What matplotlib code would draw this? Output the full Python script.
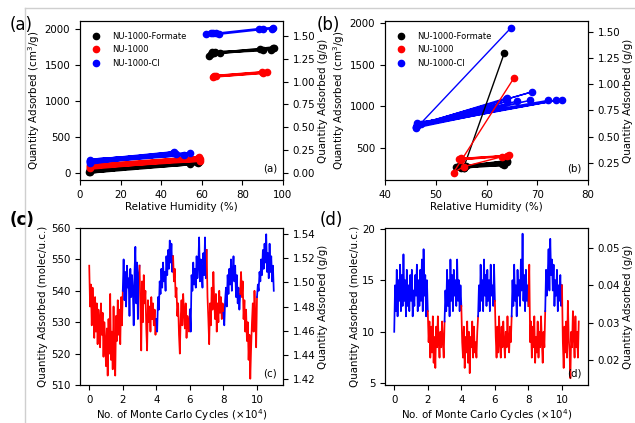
import numpy as np
import matplotlib
matplotlib.use("Agg")
from matplotlib import pyplot as plt
from matplotlib.lines import Line2D

# ---- panel (a): isotherm, relative humidity vs uptake ----
a_form_low_x = [5, 58, 5, 57, 5, 58, 4.5, 54, 5, 58.5]
a_form_low_y = [15, 140, 35, 155, 50, 165, 5, 120, 25, 150]
a_form_high_x = [63.5, 66, 65, 69, 88.5, 95, 94, 95.5, 90, 66.5, 64.5]
a_form_high_y = [1630, 1665, 1680, 1665, 1720, 1740, 1710, 1730, 1705, 1675, 1650]
a_nu_low_x = [5, 59, 5, 58.5, 5, 59, 5, 58]
a_nu_low_y = [60, 190, 90, 215, 110, 170, 75, 200]
a_nu_high_x = [65.5, 67, 89.5, 92, 90, 66]
a_nu_high_y = [1335, 1345, 1395, 1405, 1390, 1340]
a_cl_low_x = [5, 46, 5, 47.5, 5, 54, 5, 51, 5, 46.5]
a_cl_low_y = [130, 280, 160, 265, 180, 270, 145, 250, 170, 285]
a_cl_high_x = [62, 64.5, 65.5, 67, 68.5, 88, 90, 95, 94.5]
a_cl_high_y = [1935, 1945, 1950, 1945, 1935, 1995, 2000, 2010, 2005]

# ---- panel (b) ----
b_form_x = [54, 63.5, 55, 64, 56, 63, 55.5, 64, 54.5, 63.5, 55.5]
b_form_y = [265, 320, 250, 340, 280, 300, 270, 330, 275, 290, 260]
b_form_top_x = [55.5, 63.5]
b_form_top_y = [260, 1640]
b_nu_x = [54.5, 64, 55, 64.5, 55, 63, 55.5, 53.5, 65.4]
b_nu_y = [360, 400, 370, 410, 355, 390, 270, 200, 1340]
b_cl_x = [64.8, 47, 68.9, 46.3, 64, 46.2, 64, 46.4, 66, 46.5, 68.6, 46.2,
          72.2, 46.3, 73.7, 46.4, 74.8, 46.2, 63.8]
b_cl_y = [1944, 790, 1172, 770, 1100, 745, 1060, 760, 1060, 790, 1071, 740,
          1071, 800, 1071, 770, 1080, 755, 1085]

# ---- panel (c): MC trace, blocks of 2e4 / 1e4 cycles ----
c_blocks = [
    ("red", 0, 2, [548, 535, 542, 529, 541, 533, 525, 538, 527, 536, 523, 534, 530, 522,
                   536, 526, 533, 519, 530, 524, 516, 528, 513, 531, 520, 539, 518, 527,
                   515, 535, 520, 513, 532, 524, 537, 526, 534, 523, 538, 529, 540]),
    ("blue", 2, 3, [540, 550, 537, 546, 535, 548, 541, 544, 532, 547, 538, 545, 540, 529,
                    546, 554, 536, 549, 531, 545, 548]),
    ("red", 3, 4, [548, 535, 521, 543, 530, 545, 536, 540, 528, 521, 537, 530, 535, 527,
                   538, 531, 536, 529, 534, 526, 531]),
    ("blue", 4, 5, [531, 527, 538, 534, 543, 539, 547, 541, 549, 543, 546, 540, 551, 545,
                    553, 547, 556, 549, 555, 546, 551]),
    ("red", 5, 6, [551, 543, 547, 538, 541, 532, 536, 526, 520, 531, 537, 529, 539, 533,
                   528, 536, 525, 532, 530, 527, 534]),
    ("blue", 6, 7, [534, 527, 545, 540, 549, 542, 547, 541, 551, 544, 548, 557, 543, 550,
                    546, 541, 552, 545, 557, 544, 553]),
    ("red", 7, 8, [553, 538, 531, 523, 536, 529, 541, 534, 546, 537, 531, 539, 527, 536,
                   530, 540, 533, 538, 531, 536, 533]),
    ("blue", 8, 9, [533, 529, 537, 541, 535, 545, 539, 547, 542, 550, 540, 546, 551, 543,
                    548, 538, 545, 536, 541, 534, 539]),
    ("red", 9, 10, [539, 546, 538, 543, 531, 537, 527, 534, 524, 530, 518, 526, 512, 522,
                    530, 536, 527, 540, 532, 522, 538]),
    ("blue", 10, 11, [538, 542, 540, 546, 543, 550, 545, 553, 547, 555, 549, 558, 546, 552,
                      544, 555, 546, 551, 543, 548, 540]),
]

# ---- panel (d) ----
d_blocks = [
    ("blue", 0, 2, [10.0, 14.5, 12.0, 16.0, 11.5, 15.0, 13.0, 16.5, 12.0, 15.5, 12.5, 17.5,
                    13.0, 15.0, 11.5, 16.0, 12.5, 14.5, 12.0, 15.5, 13.0, 16.0, 11.5, 14.0,
                    12.5, 15.5, 13.5, 16.5, 12.0, 15.0, 12.5, 16.0, 13.0, 17.0, 12.0, 18.0,
                    13.5, 15.5, 11.5, 15.0, 12.0]),
    ("red", 2, 3, [12.0, 9.0, 11.0, 7.5, 10.5, 8.0, 11.5, 7.0, 9.5, 6.5, 10.5, 8.5, 11.5,
                   9.0, 7.5, 10.0, 8.5, 11.0, 9.0, 7.5, 11.0]),
    ("blue", 3, 4, [11.0, 14.0, 12.0, 16.0, 12.5, 15.0, 11.5, 17.0, 13.0, 15.5, 12.0, 16.0,
                    13.5, 15.0, 12.5, 17.0, 13.0, 15.0, 12.0, 14.5, 12.5]),
    ("red", 4, 5, [12.5, 9.0, 7.5, 10.5, 6.5, 9.5, 8.0, 11.0, 7.0, 10.0, 6.0, 9.5, 8.5,
                   11.0, 7.5, 10.5, 8.0, 9.0, 7.5, 10.0, 11.5]),
    ("blue", 5, 6, [11.5, 14.5, 12.0, 16.5, 13.0, 15.0, 12.0, 17.0, 13.5, 15.5, 12.5, 16.0,
                    13.0, 15.0, 12.0, 16.5, 13.5, 14.5, 12.5, 16.5, 13.0]),
    ("red", 6, 7, [13.0, 9.5, 7.5, 10.5, 8.0, 11.5, 9.0, 7.5, 10.5, 8.5, 11.0, 9.0, 7.5,
                   10.0, 8.5, 11.5, 9.0, 8.0, 10.5, 9.0, 11.5]),
    ("blue", 7, 8, [11.5, 15.0, 12.5, 16.5, 13.0, 14.5, 11.5, 16.0, 13.5, 15.0, 12.5, 17.0,
                    14.0, 19.5, 13.0, 15.5, 12.0, 16.0, 13.0, 14.5, 12.5]),
    ("red", 8, 9, [12.5, 16.5, 9.0, 11.0, 7.5, 10.5, 8.5, 11.5, 7.0, 9.5, 8.0, 11.0, 7.5,
                   10.0, 8.5, 11.5, 9.0, 7.0, 10.0, 8.5, 12.0]),
    ("blue", 9, 10, [12.0, 16.0, 13.5, 15.5, 18.0, 14.0, 19.0, 15.5, 17.0, 14.0, 16.5, 12.5,
                     15.0, 13.5, 16.0, 12.0, 14.5, 13.0, 15.5, 12.5, 14.5]),
    ("red", 10, 11, [14.5, 9.0, 6.5, 10.5, 8.0, 11.0, 7.5, 13.0, 9.5, 8.0, 5.5, 10.0, 8.5,
                     12.0, 9.5, 7.5, 11.5, 8.5, 10.0, 7.5, 11.0]),
]

labels = ["NU-1000-Formate", "NU-1000", "NU-1000-Cl"]
colors = ["black", "red", "blue"]

plt.rcParams["font.family"] = "DejaVu Sans"
plt.rcParams["font.size"] = 7.4
plt.rcParams["xtick.labelsize"] = 7.4
plt.rcParams["ytick.labelsize"] = 7.4

fig = plt.figure(figsize=(6.35, 4.23), dpi=100)
W, H = 635.0, 423.0

def box(l, t, r, b):
    return [l / W, 1 - b / H, (r - l) / W, (b - t) / H]

ax_a = fig.add_axes(box(80, 21, 283, 180))
ax_b = fig.add_axes(box(385, 21, 588, 180))
ax_c = fig.add_axes(box(80, 228, 283, 385))
ax_d = fig.add_axes(box(385, 228, 588, 385))

# frame of the original composite
fig.add_artist(Line2D([25 / W, 1], [1 - 8 / H, 1 - 8 / H], color="#cfcfcf", lw=1,
                      transform=fig.transFigure))
fig.add_artist(Line2D([25 / W, 25 / W], [0, 1 - 8 / H], color="#cfcfcf", lw=1,
                      transform=fig.transFigure))

ms = 4.5
# (a)
for xs, ys, c in [(a_form_low_x, a_form_low_y, "black"), (a_form_high_x, a_form_high_y, "black"),
                  (a_nu_low_x, a_nu_low_y, "red"), (a_nu_high_x, a_nu_high_y, "red"),
                  (a_cl_low_x, a_cl_low_y, "blue"), (a_cl_high_x, a_cl_high_y, "blue")]:
    ax_a.plot(xs, ys, "-o", color=c, lw=2, ms=ms)
ax_a.set_xlim(0, 100)
ax_a.set_ylim(-100, 2110)
ax_a.set_xticks([0, 20, 40, 60, 80, 100])
ax_a.set_yticks([0, 500, 1000, 1500, 2000])
ax_a.set_xlabel("Relative Humidity (%)", labelpad=2)
ax_a.set_ylabel("Quantity Adsorbed (cm$^3$/g)", labelpad=2)
ra = ax_a.twinx()
ra.set_ylim(-0.077, 1.664)
ra.set_yticks([0, 0.25, 0.5, 0.75, 1.0, 1.25, 1.5])
ra.set_yticklabels(["0.00", "0.25", "0.50", "0.75", "1.00", "1.25", "1.50"])
ra.set_ylabel("Quantity Adsorbed (g/g)", labelpad=2)

# (b)
ax_b.plot(b_cl_x, b_cl_y, "-o", color="blue", lw=1, ms=ms)
ax_b.plot(b_form_x, b_form_y, "-o", color="black", lw=1.5, ms=ms)
ax_b.plot(b_form_top_x, b_form_top_y, "-o", color="black", lw=1, ms=ms)
ax_b.plot(b_nu_x, b_nu_y, "-o", color="red", lw=1, ms=ms)
ax_b.set_xlim(40, 80)
ax_b.set_ylim(110, 2028)
ax_b.set_xticks([40, 50, 60, 70, 80])
ax_b.set_yticks([500, 1000, 1500, 2000])
ax_b.set_xlabel("Relative Humidity (%)", labelpad=2)
ax_b.set_ylabel("Quantity Adsorbed (cm$^3$/g)", labelpad=2)
rb = ax_b.twinx()
rb.set_ylim(0.085, 1.602)
rb.set_yticks([0.25, 0.5, 0.75, 1.0, 1.25, 1.5])
rb.set_yticklabels(["0.25", "0.50", "0.75", "1.00", "1.25", "1.50"])
rb.set_ylabel("Quantity Adsorbed (g/g)", labelpad=2)

handles = [Line2D([], [], marker="o", ls="none", color=c, ms=ms) for c in colors]
for ax in (ax_a, ax_b):
    ax.legend(handles, labels, loc="upper left", frameon=False, fontsize=6,
              handlelength=1.2, borderaxespad=0.9, labelspacing=0.55, handletextpad=1.3)

# (c), (d)
for ax, blocks in [(ax_c, c_blocks), (ax_d, d_blocks)]:
    for c, x0, x1, vals in blocks:
        xs = np.linspace(x0, x1, len(vals))
        ax.plot(xs, vals, color=c, lw=1.25)
    ax.set_xlim(-0.55, 11.55)
    ax.set_xticks([0, 2, 4, 6, 8, 10])
    ax.set_xlabel("No. of Monte Carlo Cycles (\u00d710$^4$)", labelpad=2)
    ax.set_ylabel("Quantity Adsorbed (molec/u.c.)", labelpad=2)

ax_c.set_ylim(510, 560)
ax_c.set_yticks([510, 520, 530, 540, 550, 560])
rc = ax_c.twinx()
rc.set_ylim(1.415, 1.545)
rc.set_yticks([1.42, 1.44, 1.46, 1.48, 1.50, 1.52, 1.54])
rc.set_yticklabels(["1.42", "1.44", "1.46", "1.48", "1.50", "1.52", "1.54"])
rc.set_ylabel("Quantity Adsorbed (g/g)", labelpad=2)

ax_d.set_ylim(4.85, 20.05)
ax_d.set_yticks([5, 10, 15, 20])
rd = ax_d.twinx()
rd.set_ylim(0.01335, 0.0552)
rd.set_yticks([0.02, 0.03, 0.04, 0.05])
rd.set_yticklabels(["0.02", "0.03", "0.04", "0.05"])
rd.set_ylabel("Quantity Adsorbed (g/g)", labelpad=2)

for ax, t in [(ax_a, "(a)"), (ax_b, "(b)"), (ax_c, "(c)"), (ax_d, "(d)")]:
    ax.text(0.97, 0.04, t, transform=ax.transAxes, ha="right", va="bottom", fontsize=7.4)

fig.text(10 / W, 1 - 25 / H, "(a)", fontsize=12, va="center")
fig.text(317 / W, 1 - 25 / H, "(b)", fontsize=12, va="center")
fig.text(10 / W, 1 - 220 / H, "(c)", fontsize=12, va="center", fontweight="bold")
fig.text(320 / W, 1 - 220 / H, "(d)", fontsize=12, va="center")

fig.savefig("out.png", dpi=100)
